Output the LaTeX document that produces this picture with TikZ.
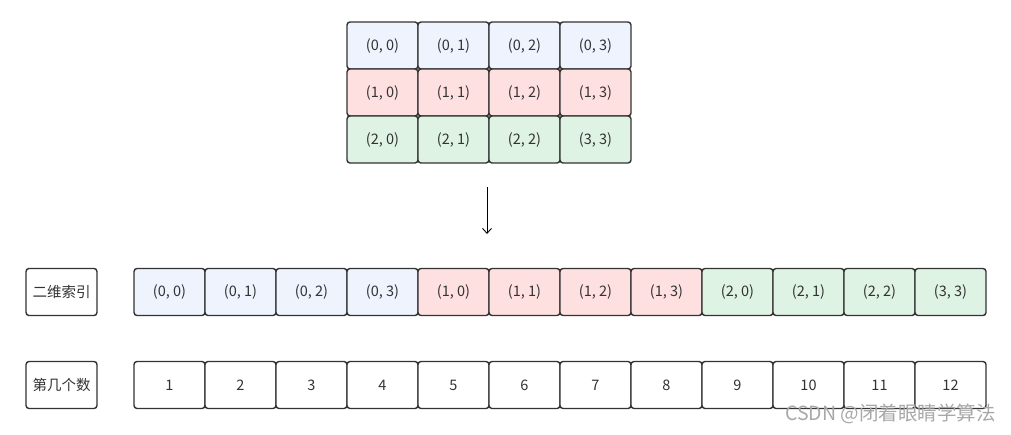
\documentclass[tikz,border=0pt]{standalone}
\usepackage{fontspec}
\setmainfont{Noto Sans CJK SC}
\usetikzlibrary{arrows.meta}
\definecolor{cblue}{HTML}{EEF3FD}
\definecolor{cred}{HTML}{FFE0E0}
\definecolor{cgreen}{HTML}{DFF3E4}
\definecolor{cline}{HTML}{333333}
\definecolor{wm}{HTML}{A8A8A8}
\tikzset{
  cell/.style={draw=cline, line width=1.4pt, rounded corners=3pt,
    minimum width=71pt, minimum height=47pt, inner sep=0pt,
    font=\fontsize{14.5}{16}\selectfont, text=cline},
  bluecell/.style={cell, fill=cblue},
  redcell/.style={cell, fill=cred},
  greencell/.style={cell, fill=cgreen},
  whitecell/.style={cell, fill=white},
  conn/.style={draw=black, line width=0.9pt, -{Straight Barb[length=5pt,width=9pt]}},
}
\begin{document}
\begin{tikzpicture}[x=1pt,y=-1pt]
\useasboundingbox (0,0) rectangle (1011,434);
% top grid
\node[bluecell] (t00) at (382.5,45.5) {(0, 0)};
\node[bluecell] (t01) at (453.5,45.5) {(0, 1)};
\node[bluecell] (t02) at (524.5,45.5) {(0, 2)};
\node[bluecell] (t03) at (595.5,45.5) {(0, 3)};
\node[redcell] (t10) at (382.5,92.5) {(1, 0)};
\node[redcell] (t11) at (453.5,92.5) {(1, 1)};
\node[redcell] (t12) at (524.5,92.5) {(1, 2)};
\node[redcell] (t13) at (595.5,92.5) {(1, 3)};
\node[greencell] (t20) at (382.5,139.5) {(2, 0)};
\node[greencell] (t21) at (453.5,139.5) {(2, 1)};
\node[greencell] (t22) at (524.5,139.5) {(2, 2)};
\node[greencell] (t23) at (595.5,139.5) {(3, 3)};
% arrow
\coordinate (a1) at (487,187);
\coordinate (a2) at (487,234);
\draw[conn] (a1) -- (a2);
% labels
\node[whitecell] (l1) at (61.5,292) {二维索引};
\node[whitecell] (l2) at (61.5,385) {第几个数};
% row 1
\node[bluecell] (r1) at (169.5,292) {(0, 0)};
\node[bluecell] (r2) at (240.5,292) {(0, 1)};
\node[bluecell] (r3) at (311.5,292) {(0, 2)};
\node[bluecell] (r4) at (382.5,292) {(0, 3)};
\node[redcell] (r5) at (453.5,292) {(1, 0)};
\node[redcell] (r6) at (524.5,292) {(1, 1)};
\node[redcell] (r7) at (595.5,292) {(1, 2)};
\node[redcell] (r8) at (666.5,292) {(1, 3)};
\node[greencell] (r9) at (737.5,292) {(2, 0)};
\node[greencell] (r10) at (808.5,292) {(2, 1)};
\node[greencell] (r11) at (879.5,292) {(2, 2)};
\node[greencell] (r12) at (950.5,292) {(3, 3)};
% row 2
\node[whitecell] (n1) at (169.5,385) {1};
\node[whitecell] (n2) at (240.5,385) {2};
\node[whitecell] (n3) at (311.5,385) {3};
\node[whitecell] (n4) at (382.5,385) {4};
\node[whitecell] (n5) at (453.5,385) {5};
\node[whitecell] (n6) at (524.5,385) {6};
\node[whitecell] (n7) at (595.5,385) {7};
\node[whitecell] (n8) at (666.5,385) {8};
\node[whitecell] (n9) at (737.5,385) {9};
\node[whitecell] (n10) at (808.5,385) {10};
\node[whitecell] (n11) at (879.5,385) {11};
\node[whitecell] (n12) at (950.5,385) {12};
% watermark
\node[anchor=east, inner sep=0pt, text=wm, font=\fontsize{19.5}{21}\selectfont] (wmk) at (996,414) {CSDN @闭着眼睛学算法};
\end{tikzpicture}
\end{document}
